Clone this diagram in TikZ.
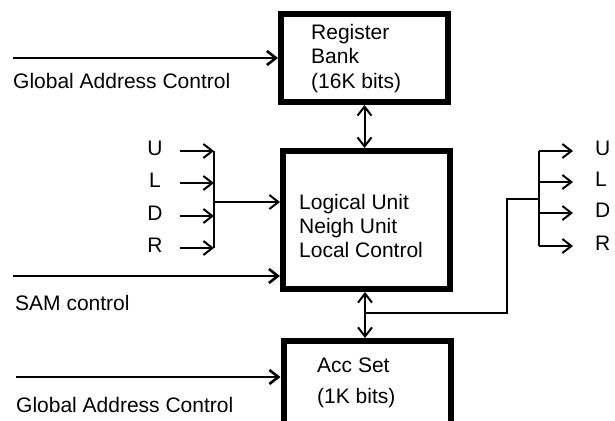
\documentclass[tikz,border=0pt]{standalone}
\usepackage{fontspec}
\setmainfont{Liberation Sans}
\usetikzlibrary{arrows.meta}
\begin{document}
\begin{tikzpicture}[x=1pt,y=-1pt,
  box/.style={draw, line width=6pt, minimum width=167pt, inner sep=0pt},
  lbl/.style={font=\fontsize{21}{24}\selectfont, inner sep=0pt},
  wire/.style={line width=2pt},
  tip/.style={},
  arr/.style={wire, -{Straight Barb[length=9pt,width=14pt]}},
  biarr/.style={wire, {Straight Barb[length=9pt,width=14pt]}-{Straight Barb[length=9pt,width=14pt]}},
  inwire/.style={arr, line width=2.6pt},
]
\useasboundingbox (0,0) rectangle (615,420);

% boxes
\node[box, minimum height=88pt]  (reg)   at (364.5,58)  {};
\node[box, minimum height=138pt] (logic) at (366.5,220) {};
\node[box, minimum height=89pt]  (acc)   at (367,385.5) {};

% box texts
\node[lbl, anchor=base west] (reg1) at (311,39.5) {Register};
\node[lbl, anchor=base west] (reg2) at (311,63.5) {Bank};
\node[lbl, anchor=base west] (reg3) at (311,88)   {(16K bits)};
\node[lbl, anchor=base west] (log1) at (299,209) {Logical Unit};
\node[lbl, anchor=base west] (log2) at (299,233) {Neigh Unit};
\node[lbl, anchor=base west] (log3) at (299,257) {Local Control};
\node[lbl, anchor=base west] (acc1) at (317,372) {Acc Set};
\node[lbl, anchor=base west] (acc2) at (317,403) {(1K bits)};

% inputs from the left
\coordinate (g1) at (13,58);
\draw[inwire] (g1) -- (reg.west |- g1);
\node[lbl, anchor=base west] (g1l) at (13,88) {Global Address Control};

\coordinate (sam) at (13,276);
\draw[inwire] (sam) -- (logic.west |- sam);
\node[lbl, anchor=base west] (saml) at (15,310) {SAM control};

\coordinate (g2) at (16,377);
\draw[inwire] (g2) -- (acc.west |- g2);
\node[lbl, anchor=base west] (g2l) at (16,412) {Global Address Control};

% left neighbour inputs
\foreach \n/\y in {U/151,L/183,D/216,R/248} {
  \node[lbl, anchor=base] (l\n) at (155,\y+4) {\n};
  \coordinate (ls\n) at (180,\y);
  \coordinate (lb\n) at (214,\y);
  \draw[arr] (ls\n) -- (lb\n);
}
\draw[wire] (lbU) -- (lbR);
\coordinate (lbm) at (214,202);
\draw[arr] (lbm) -- (logic.west |- lbm);

% right neighbour outputs
\foreach \n/\y in {U/151,L/182,D/213,R/246} {
  \node[lbl, anchor=base west] (r\n) at (595,\y+4) {\n};
  \coordinate (rb\n) at (539,\y);
  \coordinate (re\n) at (573,\y);
  \draw[arr] (rb\n) -- (re\n);
}
\draw[wire] (rbU) -- (rbR);

% vertical links
\draw[biarr] (reg.south) -- (reg.south |- logic.north);
\coordinate (la) at (365,313);
\draw[biarr] (logic.south -| la) -- (acc.north -| la);
\coordinate (lb) at (507,313);
\coordinate (lc) at (507,199);
\coordinate (rbm) at (539,199);
\draw[wire] (la) -- (lb) -- (lc) -- (rbm);
\end{tikzpicture}
\end{document}
